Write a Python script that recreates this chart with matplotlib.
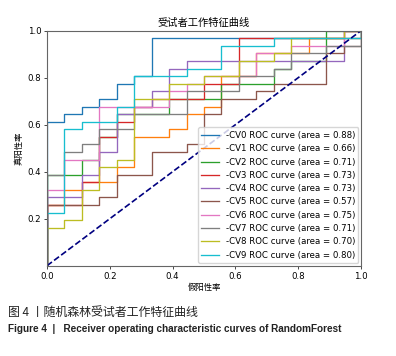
import matplotlib
matplotlib.use("Agg")
from matplotlib import pyplot as plt

plt.rcParams['font.family'] = ['DejaVu Sans', 'Noto Sans CJK SC']

n_neg = 18   # negatives -> fpr steps
n_pos = 31   # positives -> tpr steps

# true positive count held on each false positive step
cv0 = [19, 20, 21, 22, 24, 25, 30, 30, 30, 30, 30, 30, 30, 30, 30, 30, 30, 30]
cv1 = [8, 10, 11, 11, 13, 17, 17, 18, 20, 21, 25, 25, 28, 28, 28, 30, 30, 30]
cv2 = [12, 12, 14, 17, 20, 20, 20, 22, 22, 22, 24, 24, 24, 26, 27, 27, 31, 31]
cv3 = [8, 8, 11, 17, 19, 21, 22, 22, 22, 24, 24, 30, 30, 30, 30, 30, 30, 31]
cv4 = [9, 9, 12, 15, 20, 21, 23, 26, 27, 27, 27, 27, 27, 27, 27, 27, 27, 31]
cv5 = [8, 8, 8, 9, 12, 12, 15, 15, 16, 20, 22, 22, 23, 24, 24, 24, 28, 29]
cv6 = [10, 14, 14, 21, 21, 21, 21, 23, 24, 25, 25, 25, 28, 28, 29, 29, 29, 31]
cv7 = [12, 15, 16, 18, 18, 20, 20, 20, 23, 23, 23, 25, 25, 26, 28, 28, 29, 29]
cv8 = [5, 6, 10, 13, 14, 22, 22, 24, 24, 25, 25, 27, 27, 28, 30, 30, 30, 31]
cv9 = [7, 18, 19, 19, 21, 25, 25, 25, 26, 26, 29, 29, 29, 30, 30, 30, 30, 30]

curves = [cv0, cv1, cv2, cv3, cv4, cv5, cv6, cv7, cv8, cv9]
aucs = [0.88, 0.66, 0.71, 0.73, 0.73, 0.57, 0.75, 0.71, 0.70, 0.80]
names = ["CV0", "CV1", "CV2", "CV3", "CV4", "CV5", "CV6", "CV7", "CV8", "CV9"]


def roc_points(counts):
    fpr = [0.0]
    tpr = [0.0]
    for k, c in enumerate(counts):
        fpr += [k / n_neg, (k + 1) / n_neg]
        tpr += [c / n_pos, c / n_pos]
    fpr.append(1.0)
    tpr.append(1.0)
    return fpr, tpr


fig = plt.figure(figsize=(3.96, 3.56), dpi=100)
ax = fig.add_axes([47 / 396, (356 - 265.7) / 356, 314 / 396, 235 / 356])

for idx, counts in enumerate(curves):
    fpr, tpr = roc_points(counts)
    ax.plot(fpr, tpr, color="C%d" % idx, lw=0.95,
            label="-%s ROC curve (area = %0.2f)" % (names[idx], aucs[idx]))

ax.plot([0, 1], [0, 1], color="navy", lw=1.2, linestyle="--")

ax.set_xlim(0.0, 1.0)
ax.set_ylim(0.0, 1.0)
ax.set_xticks([0.0, 0.2, 0.4, 0.6, 0.8, 1.0])
ax.set_yticks([0.2, 0.4, 0.6, 0.8, 1.0])
ax.tick_params(labelsize=6.2, length=2.2, width=0.5, pad=2)
for sp in ax.spines.values():
    sp.set_linewidth(0.8)
    sp.set_color("#666666")

ax.set_title("受试者工作特征曲线", fontsize=7.4, pad=3.5)
ax.set_xlabel("假阳性率", fontsize=6, labelpad=2)
ax.set_ylabel("真阳性率", fontsize=6, labelpad=3)
ax.legend(loc="lower right", fontsize=6.2, handlelength=2.0,
          borderaxespad=0.3, labelspacing=0.5)

fig.text(8 / 396, (356 - 312) / 356, "图 4 丨随机森林受试者工作特征曲线",
         fontsize=8.6, color="#222222", va="center",
         family=["Noto Sans CJK SC", "DejaVu Sans"])
fig.text(8 / 396, (356 - 328.5) / 356,
         "Figure 4  |   Receiver operating characteristic curves of RandomForest",
         fontsize=7.2, color="#222222", va="center", weight="bold",
         family=["Liberation Sans", "DejaVu Sans"])

fig.savefig("out.png", dpi=100)
